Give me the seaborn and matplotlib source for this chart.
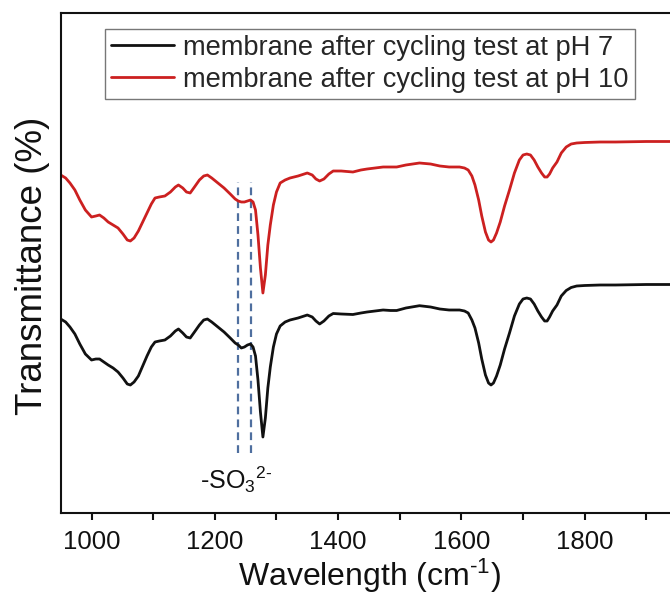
import numpy as np
import pandas as pd
import matplotlib
matplotlib.use("Agg")
import matplotlib.pyplot as plt
import seaborn as sns

# ---- data (wavenumber in cm^-1, transmittance in arbitrary units) ----
wavenumber = [950, 958, 965, 973, 981, 990, 1000, 1007, 1013, 1020, 1027, 1035, 1043, 1051, 1058, 1063,
              1069, 1076, 1083, 1090, 1097, 1103, 1110, 1119, 1128, 1136, 1141, 1148, 1154, 1160, 1167,
              1175, 1182, 1188, 1195, 1205, 1215, 1225, 1233, 1238, 1243, 1248, 1253, 1258, 1262, 1266,
              1270, 1274, 1278, 1282, 1286, 1290, 1295, 1300, 1306, 1314, 1322, 1335, 1350, 1358, 1364,
              1370, 1377, 1385, 1392, 1405, 1424, 1437, 1447, 1460, 1473, 1485, 1495, 1510, 1532, 1550,
              1565, 1580, 1597, 1605, 1611, 1617, 1622, 1628, 1633, 1639, 1644, 1648, 1652, 1657, 1663,
              1670, 1678, 1686, 1694, 1700, 1706, 1712, 1718, 1724, 1730, 1735, 1739, 1743, 1748, 1755,
              1762, 1770, 1778, 1787, 1800, 1825, 1850, 1900, 1950, 2000]

t_ph10 = [338, 335, 330, 323, 313, 303, 296, 297, 298, 295, 291, 288, 285, 279, 273, 272,
          275, 282, 291, 300, 309, 315, 316, 317, 321, 326, 328, 325, 321, 320, 326,
          333, 337, 338, 335, 330, 325, 319, 314, 312, 311, 311, 312, 313, 311, 303,
          278, 245, 220, 238, 268, 288, 308, 321, 330, 333, 335, 337, 340, 338, 334,
          332, 334, 339, 342, 342, 341, 343, 344, 345, 346, 346, 346, 348, 350, 349,
          347, 346, 346, 345, 343, 337, 328, 313, 297, 281, 273, 271, 273, 280, 291,
          307, 323, 340, 353, 358, 359, 358, 353, 346, 340, 336, 336, 339, 345, 351,
          360, 366, 369, 370, 370.5, 371, 371, 371.5, 371.5, 371.5]

t_ph7 = [194, 191, 186, 179, 169, 159, 153, 154, 154, 151, 148, 145, 141, 135, 129, 128,
         131, 137, 147, 157, 166, 171, 172, 173, 177, 182, 184, 180, 176, 175, 181,
         188, 193, 194, 191, 186, 181, 175, 170, 168, 165, 166, 168, 169, 166, 157,
         133, 101, 76, 95, 125, 146, 166, 179, 187, 191, 193, 195, 198, 196, 192,
         189, 192, 197, 199.5, 199, 198.5, 200, 201, 202, 203, 202.5, 202.5, 205, 207.3, 206,
         204, 203, 203, 202, 200, 193, 185, 170, 154, 138, 130, 128, 130, 137, 148,
         164, 180, 197, 209, 214, 215, 214, 209, 202, 196, 192, 192, 196, 202, 208,
         217, 222.5, 225.5, 227, 227.5, 228, 228, 228.5, 228.5, 228.5]

series_labels = ["membrane after cycling test at pH 7", "membrane after cycling test at pH 10"]
marker_wn = [1237, 1258]          # -SO3 2- band markers
marker_span = [60, 331]           # vertical extent of the dashed markers
annot_text = r"-SO$_3$$^{\text{2-}}$"
annot_pos = [1234, 33]
x_ticks = [1000, 1200, 1400, 1600, 1800]
x_minor = [1100, 1300, 1500, 1700, 1900]

# ---- style ----
sns.set_theme(style="ticks")
plt.rcParams["font.family"] = ["Liberation Sans", "DejaVu Sans"]
plt.rcParams["mathtext.fontset"] = "custom"
plt.rcParams["mathtext.rm"] = "Liberation Sans"
plt.rcParams["mathtext.it"] = "Liberation Sans:italic"
plt.rcParams["mathtext.default"] = "regular"
plt.rcParams["axes.unicode_minus"] = False

df = pd.DataFrame({
    "wn": wavenumber * 2,
    "T": t_ph7 + t_ph10,
    "sample": [series_labels[0]] * len(wavenumber) + [series_labels[1]] * len(wavenumber),
})

fig = plt.figure(figsize=(6.7, 5.94), dpi=100)
ax = fig.add_axes([60.7 / 670, 81 / 594, 647.3 / 670, 500.5 / 594])

sns.lineplot(data=df, x="wn", y="T", hue="sample", hue_order=series_labels,
             palette=["#111111", "#cc2020"], linewidth=2.0, ax=ax, sort=False,
             estimator=None)

for xv in marker_wn:
    ax.vlines(xv, marker_span[0], marker_span[1], colors="#4f6f9f", linewidth=1.6,
              linestyles=(0, (3.5, 2.3)), zorder=1)

ax.text(annot_pos[0], annot_pos[1], annot_text, fontsize=18, ha="center", va="center", color="#111111")

ax.set_xlim(950, 2000)
ax.set_ylim(0, 500.5)
ax.set_xticks(x_ticks)
ax.set_xticks(x_minor, minor=True)
ax.set_yticks([])
ax.tick_params(axis="x", which="both", direction="out", length=5, width=1.5, labelsize=18.5,
               pad=7, colors="#111111")
for s in ax.spines.values():
    s.set_linewidth(1.5)
    s.set_color("#111111")

ax.set_xlabel(r"Wavelength (cm$^{\text{-1}}$)", fontsize=23, color="#111111")
ax.xaxis.set_label_coords(0.477, -0.145)
ax.xaxis.label.set_va("baseline")
ax.set_ylabel("Transmittance (%)", fontsize=26.5, color="#111111")
ax.yaxis.set_label_coords(-0.017, 0.494)

leg = ax.legend(loc="upper left", bbox_to_anchor=(0.0684, 0.967), borderaxespad=0,
                fontsize=19.6, handlelength=2.33, handletextpad=0.33, labelspacing=0.22,
                frameon=True, fancybox=False, framealpha=1, borderpad=0.22, title=None)
leg.get_frame().set_edgecolor("#777777")
leg.get_frame().set_linewidth(1.0)
for line in leg.get_lines():
    line.set_linewidth(2.0)

fig.savefig("out.png", dpi=100)
